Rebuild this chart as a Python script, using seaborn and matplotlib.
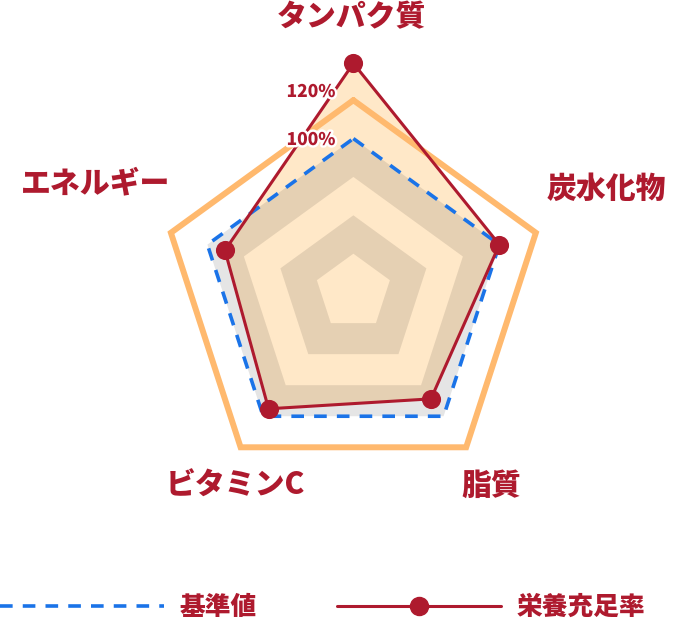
import numpy as np
import pandas as pd
import seaborn as sns
import matplotlib.pyplot as plt
import matplotlib.patheffects as pe
from matplotlib.path import Path
from matplotlib.patches import PathPatch
from matplotlib.lines import Line2D

# data (percent of recommended intake)
categories = ["タンパク質", "炭水化物", "脂質", "ビタミンC", "エネルギー"]
baseline = [100, 100, 100, 100, 100]
intake = [149, 100, 86, 94, 88]
levels = [25, 50, 75, 100, 125]
tick_labels = ["100%", "120%"]

sns.set_theme(style="white")
plt.rcParams["font.family"] = ["Noto Sans CJK JP", "DejaVu Sans"]

RED = "#ae1a2e"
BLUE = "#1a73e8"
ORANGE = "#ffb96e"
FILL = "#ffe8c8"

n = len(categories)
theta = np.linspace(0, 2 * np.pi, n, endpoint=False)
theta_c = np.append(theta, 2 * np.pi)

fig = plt.figure(figsize=(6.82, 6.22), dpi=100)
# polar axes centred at (353, 292) px, 1.535 px per percent, rmax 160
ax = fig.add_axes([0.158, 0.1356, 0.7203, 0.7897], projection="polar")
ax.set_theta_offset(np.pi / 2)
ax.set_theta_direction(-1)
ax.set_ylim(0, 160)
ax.axis("off")

# series fill of intake
ax.fill(theta_c, np.append(intake, intake[0]), color=FILL, zorder=1, lw=0)

# alternating split areas (every second ring shaded)
for i in range(1, len(levels), 2):
    r_in, r_out = levels[i - 1], levels[i]
    verts = [(t, r_out) for t in theta] + [(0, 0)]
    codes = [Path.MOVETO] + [Path.LINETO] * (n - 1) + [Path.CLOSEPOLY]
    verts += [(t, r_in) for t in theta[::-1]] + [(0, 0)]
    codes += [Path.MOVETO] + [Path.LINETO] * (n - 1) + [Path.CLOSEPOLY]
    ax.add_patch(PathPatch(Path(verts, codes), facecolor="black", alpha=0.1,
                           lw=0, transform=ax.transData, zorder=2))

# outer frame
ax.plot(theta_c, [levels[-1]] * (n + 1), color=ORANGE, lw=4.3, zorder=3,
        solid_joinstyle="miter")

df_base = pd.DataFrame({"theta": theta_c, "r": np.append(baseline, baseline[0])})
df_int = pd.DataFrame({"theta": theta_c, "r": np.append(intake, intake[0])})

sns.lineplot(data=df_base, x="theta", y="r", sort=False, estimator=None,
             ax=ax, color=BLUE, lw=2.6, zorder=4, dashes=False)
ax.lines[-1].set_dashes([3.5, 2.8])
sns.lineplot(data=df_int, x="theta", y="r", sort=False, estimator=None,
             ax=ax, color=RED, lw=2.2, zorder=5)
sns.scatterplot(x=theta, y=intake, ax=ax, color=RED, s=190, lw=0,
                zorder=6, clip_on=False)
ax.set_xlabel("")
ax.set_ylabel("")

# value labels along the top axis
stroke = [pe.withStroke(linewidth=3.5, foreground="white")]
for txt, y in zip(tick_labels, [140, 92]):
    fig.text(311 / 682, 1 - y / 622, txt, color=RED, fontsize=12.5,
             fontweight="black", ha="center", va="center", path_effects=stroke)

# category labels
label_pos = [(351, 17), (606, 188), (491, 485), (235, 485), (96, 183)]
for txt, (x, y) in zip(categories, label_pos):
    fig.text(x / 682, 1 - y / 622, txt, color=RED, fontsize=21.5,
             fontweight="black", ha="center", va="center")

handles = [
    Line2D([], [], color=BLUE, lw=2.6, dashes=[3.5, 2.8]),
    Line2D([], [], color=RED, lw=2.2, marker="o", markersize=13),
]
fig.legend(handles, ["基準値", "栄養充足率"], loc="center left",
           bbox_to_anchor=(0, 1 - 607 / 622), ncol=2, frameon=False,
           handlelength=6.4, handletextpad=0.6,
           columnspacing=3.1, borderpad=0, borderaxespad=0,
           labelcolor=RED, prop={"weight": "black", "size": 18.5})

fig.savefig("out.png", dpi=100)
